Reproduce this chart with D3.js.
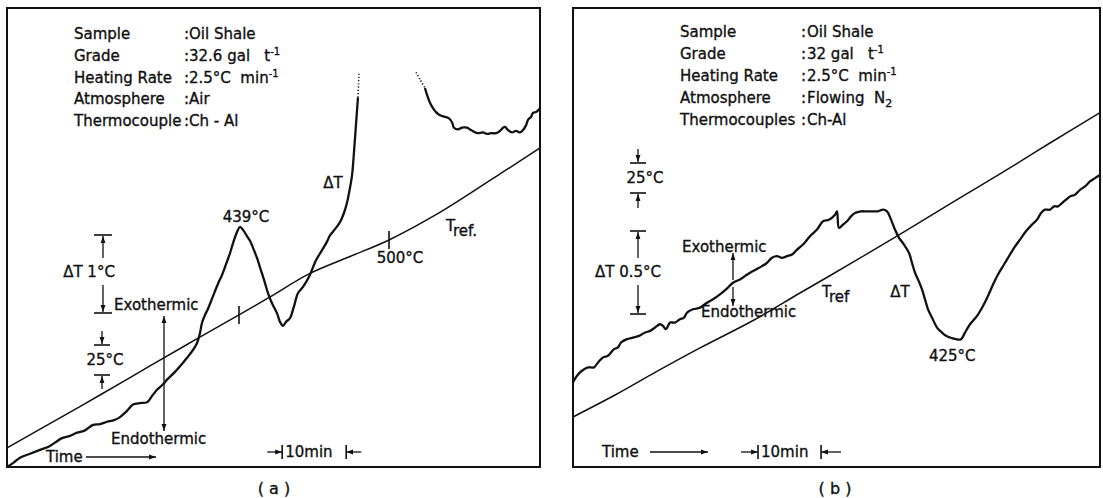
<!DOCTYPE html>
<html>
<head>
<meta charset="utf-8">
<script src="https://cdn.jsdelivr.net/npm/d3@7"></script>
<style>
body{margin:0;background:#fff;}
text{font-family:'DejaVu Sans',sans-serif;font-size:15px;fill:#111;stroke:#111;stroke-width:0.35px;white-space:pre;}
</style>
</head>
<body>
<script>
// (a) oil shale in air : DTA trace (time in min, deltaT in degC from an arbitrary zero)
var timeA = [0,1.09,2.03,3.59,5.16,6.72,7.81,8.59,9.84,10.94,12.19,13.44,14.53,15.63,16.72,17.66,18.75,19.69,20.78,21.88,
  22.66,23.44,24.38,25.0,26.25,27.34,28.13,29.06,29.69,30.16,30.47,30.94,31.41,32.19,32.97,33.59,34.22,34.84,35.47,36.09,
  36.41,36.88,37.5,37.97,38.44,39.06,39.53,40.16,40.78,41.41,42.19,42.66,43.13,43.59,44.22,44.84,45.47,46.25,47.19,47.81,
  48.28,49.22,50.0,50.47,51.25,52.03,52.66,53.13,53.59,53.91,54.22,54.53,54.84];
var dtaA = [0,0.06,0.12,0.17,0.22,0.27,0.33,0.37,0.40,0.44,0.47,0.54,0.55,0.58,0.60,0.64,0.72,0.80,0.82,0.83,
  0.91,0.99,1.06,1.12,1.22,1.32,1.40,1.50,1.59,1.72,1.85,1.95,2.03,2.19,2.35,2.46,2.60,2.74,2.91,3.04,
  3.08,3.04,2.96,2.90,2.81,2.68,2.56,2.40,2.23,2.10,1.97,1.86,1.81,1.86,1.91,2.06,2.23,2.31,2.44,2.56,
  2.65,2.78,2.89,2.97,3.05,3.14,3.26,3.39,3.58,3.74,4.04,4.39,4.74];
// pen off scale (dotted)
var timeAOff1 = [54.84,54.92,55.0], dtaAOff1 = [4.74,4.90,5.06];
var timeAOff2 = [63.91,64.53,65.31], dtaAOff2 = [5.06,4.97,4.86];
var timeA2 = [65.31,65.63,66.09,66.56,67.03,67.66,68.44,69.06,69.53,69.84,70.47,71.09,71.88,72.5,73.44,74.38,75.0,75.63,76.41,77.03,
  77.5,77.81,78.28,78.91,79.53,80.16,80.63,81.09,81.41,81.88,82.19,82.66,83.28];
var dtaA2 = [4.86,4.77,4.67,4.60,4.55,4.51,4.49,4.47,4.42,4.35,4.33,4.35,4.35,4.32,4.28,4.29,4.27,4.28,4.28,4.31,
  4.35,4.36,4.32,4.29,4.31,4.29,4.32,4.38,4.45,4.49,4.54,4.55,4.60];
// reference temperature (degC)
var trefTimeA = [0,8.28,14.53,22.34,29.38,36.25,41.09,47.19,53.59,59.69,67.5,77.03,83.28];
var trefA = [326.7,351.7,370.8,395,416.7,437.5,452.5,471.7,486.2,500,522.5,555,576.7];
var tickTimeA = [36.25,59.69], tickTempA = [437.5,500];

// (b) oil shale in flowing N2
var timeB = [0,0.63,1.43,2.38,3.33,3.97,4.76,5.56,6.51,7.14,7.62,8.57,9.52,10.48,11.43,12.22,13.02,13.81,14.29,14.76,
  15.40,16.19,16.98,17.62,18.10,19.05,20.16,21.27,22.22,23.33,24.29,25.40,26.51,27.30,28.10,29.05,30.00,30.79,31.59,32.38,
  33.17,33.97,34.76,35.56,36.51,37.62,38.73,39.68,40.63,41.59,41.90,42.22,42.86,43.49,44.13,44.76,45.71,46.51,47.14,47.78,
  48.41,49.21,49.84,50.48,51.11,51.75,52.54,53.33,53.81,54.29,54.76,55.40,55.87,56.35,56.98,57.78,58.57,59.21,59.84,60.79,
  61.59,62.22,63.02,64.13,65.08,65.87,66.67,67.46,68.41,69.05,69.84,70.95,71.90,72.86,73.65,74.29,74.92,75.71,76.35,76.98,
  77.62,78.25,78.89,79.68,80.48,81.27,82.06,82.86,83.65];
var dtaB = [0.51,0.55,0.58,0.60,0.60,0.63,0.66,0.67,0.71,0.72,0.75,0.77,0.78,0.79,0.81,0.82,0.84,0.86,0.85,0.83,
  0.87,0.87,0.89,0.90,0.93,0.95,0.96,0.99,1.01,1.04,1.07,1.11,1.13,1.15,1.17,1.19,1.21,1.23,1.26,1.27,
  1.26,1.27,1.28,1.31,1.34,1.39,1.43,1.48,1.49,1.52,1.54,1.44,1.46,1.48,1.51,1.53,1.54,1.54,1.54,1.54,
  1.54,1.55,1.54,1.49,1.43,1.38,1.34,1.29,1.23,1.17,1.13,1.07,1.01,0.95,0.90,0.84,0.81,0.79,0.78,0.77,
  0.77,0.81,0.86,0.91,0.97,1.03,1.10,1.16,1.22,1.26,1.31,1.37,1.42,1.46,1.49,1.53,1.55,1.55,1.57,1.57,
  1.59,1.61,1.63,1.64,1.67,1.69,1.72,1.74,1.76];
var trefTimeB = [0,6.67,13.17,20.16,28.73,36.03,43.97,51.75,60.63,67.78,75.71,83.65];
var trefB = [245,263.3,282.5,302.5,325.8,348.3,372.5,396.7,425,447.5,473.3,498.7];

// header texts ( ^ = superscript, _ = subscript )
var infoKeysA = ["Sample","Grade","Heating Rate","Atmosphere","Thermocouple"];
var infoValsA = ["Oil Shale","32.6 gal   t^-1","2.5°C  min^-1","Air","Ch - Al"];
var infoKeysB = ["Sample","Grade","Heating Rate","Atmosphere","Thermocouples"];
var infoValsB = ["Oil Shale","32 gal   t^-1","2.5°C  min^-1","Flowing  N_2","Ch-Al"];

var width = 1103, height = 498;

var vis = d3.select("body").append("svg")
    .attr("width", width)
    .attr("height", height);

vis.append("defs").append("marker")
    .attr("id","arr")
    .attr("viewBox","0 0 10 10")
    .attr("refX",10).attr("refY",5)
    .attr("markerWidth",7).attr("markerHeight",7)
    .attr("markerUnits","userSpaceOnUse")
    .attr("orient","auto-start-reverse")
  .append("path")
    .attr("d","M0,1.5L10,5L0,8.5z")
    .attr("fill","#111");

// scales
var xA = d3.scaleLinear().domain([0,83.28]).range([7,540]);
var dA = d3.scaleLinear().domain([0,5.885]).range([467,8]);
var tA = d3.scaleLinear().domain([310.8,693.3]).range([467,8]);
var xB = d3.scaleLinear().domain([0,83.65]).range([573,1100]);
var dB = d3.scaleLinear().domain([0,2.765]).range([467,8]);
var tB = d3.scaleLinear().domain([203.3,585.8]).range([467,8]);

function trace(xs, ys, x, y, w, dash){
    var line = d3.line()
        .x(function(d){return x(d[0]);})
        .y(function(d){return y(d[1]);})
        .curve(d3.curveCatmullRom.alpha(0.5));
    var p = vis.append("path")
        .attr("d", line(d3.zip(xs, ys)))
        .attr("fill","none")
        .attr("stroke","#111")
        .attr("stroke-width", w)
        .attr("stroke-linejoin","round");
    if(dash) p.attr("stroke-dasharray", dash);
    return p;
}

function rich(g, x, y, str){
    var t = g.append("text").attr("x",x).attr("y",y);
    var sup = str.split("^"), sub = str.split("_");
    if(sup.length>1){
        t.append("tspan").text(sup[0]);
        t.append("tspan").attr("dy",-6).style("font-size","10px").text(sup[1]);
    } else if(sub.length>1){
        t.append("tspan").text(sub[0]);
        t.append("tspan").attr("dy",4).style("font-size","11px").text(sub[1]);
    } else t.text(str);
    return t;
}

function label(x, y, str, anchor){
    return vis.append("text").attr("x",x).attr("y",y)
        .attr("text-anchor", anchor||"start").text(str);
}

function arrow(x1,y1,x2,y2){
    vis.append("line").attr("x1",x1).attr("y1",y1).attr("x2",x2).attr("y2",y2)
        .attr("stroke","#111").attr("stroke-width",1.3)
        .attr("marker-end","url(#arr)");
}

function bar(xc, y, half){
    vis.append("line").attr("x1",xc-half).attr("x2",xc+half).attr("y1",y).attr("y2",y)
        .attr("stroke","#111").attr("stroke-width",1.6);
}

function vbar(x, yc, half){
    vis.append("line").attr("x1",x).attr("x2",x).attr("y1",yc-half).attr("y2",yc+half)
        .attr("stroke","#111").attr("stroke-width",1.6);
}

// frames
vis.append("rect").attr("x",7).attr("y",8).attr("width",533).attr("height",459)
    .attr("fill","none").attr("stroke","#111").attr("stroke-width",2);
vis.append("rect").attr("x",573).attr("y",8).attr("width",527).attr("height",459)
    .attr("fill","none").attr("stroke","#111").attr("stroke-width",2);

// ---------- panel (a)
var infoA = vis.append("g");
infoKeysA.forEach(function(k,i){
    var y = 39 + i*21.8;
    infoA.append("text").attr("x",74).attr("y",y).text(k);
    infoA.append("text").attr("x",184).attr("y",y).text(":");
    rich(infoA, 189, y, infoValsA[i]);
});

trace(trefTimeA, trefA, xA, tA, 1.5);
trace(timeA, dtaA, xA, dA, 2.3);
trace(timeAOff1, dtaAOff1, xA, dA, 1.6, "1.2,2");
trace(timeAOff2, dtaAOff2, xA, dA, 1.6, "1.2,2");
trace(timeA2, dtaA2, xA, dA, 2.3);

tickTimeA.forEach(function(t,i){
    vbar(xA(t), tA(tickTempA[i]), 9);
});

label(xA(36.41)+6, dA(3.08)-5, "439°C", "middle");
label(333, 188, "ΔT", "middle");
label(xA(59.69)+11, tA(500)+23, "500°C", "middle");
var tr = vis.append("text").attr("x",446).attr("y",231);
tr.append("tspan").text("T");
tr.append("tspan").attr("dy",5).text("ref.");

// deltaT 1 degC scale bar
var sA = dA(0)-dA(1);
bar(103, 235, 9); bar(103, 235+sA, 9);
arrow(103, 258, 103, 236);
arrow(103, 285, 103, 234+sA);
label(89, 277, "ΔT 1°C", "middle");
// 25 degC scale bar
var s25A = tA(310.8)-tA(335.8);
bar(102, 345, 8); bar(102, 345+s25A, 8);
arrow(102, 331, 102, 344);
arrow(102, 389, 102, 346+s25A);
label(105, 365, "25°C", "middle");

label(114, 310, "Exothermic");
label(111, 444, "Endothermic");
arrow(164, 372, 164, 316);
arrow(164, 372, 164, 431);

label(46, 462, "Time");
arrow(86, 457, 156, 457);
vbar(xA(43), 452, 7); vbar(xA(53), 452, 7);
arrow(xA(43)-15, 452, xA(43), 452);
arrow(xA(53)+15, 452, xA(53), 452);
label(xA(43)+3, 457, "10min");
vis.append("text").attr("x",274).attr("y",494).attr("text-anchor","middle")
    .style("font-size","16px").text("( a )");

// ---------- panel (b)
var infoB = vis.append("g");
infoKeysB.forEach(function(k,i){
    var y = 37 + i*22;
    infoB.append("text").attr("x",680).attr("y",y).text(k);
    infoB.append("text").attr("x",801).attr("y",y).text(":");
    rich(infoB, 807, y, infoValsB[i]);
});

trace(trefTimeB, trefB, xB, tB, 1.5);
trace(timeB, dtaB, xB, dB, 2.3);

label(701, 317, "Endothermic")
    .attr("stroke","#fff").attr("stroke-width",5).attr("paint-order","stroke");
label(682, 252, "Exothermic");
arrow(733, 280, 733, 253);
arrow(733, 287, 733, 306);

var trb = vis.append("text").attr("x",822).attr("y",297);
trb.append("tspan").text("T");
trb.append("tspan").attr("dy",5).text("ref");
label(900, 297, "ΔT", "middle");
label(xB(60.2), dB(0.77)+22, "425°C", "middle");

// 25 degC scale bar
var s25B = tB(203.3)-tB(228.3);
bar(638, 163, 8); bar(638, 163+s25B, 8);
arrow(638, 149, 638, 162);
arrow(638, 208, 638, 164+s25B);
label(645, 183, "25°C", "middle");
// deltaT 0.5 degC scale bar
var sB = dB(0)-dB(0.5);
bar(638, 231, 8); bar(638, 231+sB, 8);
arrow(638, 258, 638, 232);
arrow(638, 285, 638, 230+sB);
label(628, 277, "ΔT 0.5°C", "middle");

label(602, 457, "Time");
arrow(650, 452, 708, 452);
vbar(xB(29.37), 452, 7); vbar(xB(39.37), 452, 7);
arrow(xB(29.37)-17, 452, xB(29.37), 452);
arrow(xB(39.37)+20, 452, xB(39.37), 452);
label(xB(29.37)+3, 457, "10min");
vis.append("text").attr("x",835).attr("y",494).attr("text-anchor","middle")
    .style("font-size","16px").text("( b )");
</script>
</body>
</html>
